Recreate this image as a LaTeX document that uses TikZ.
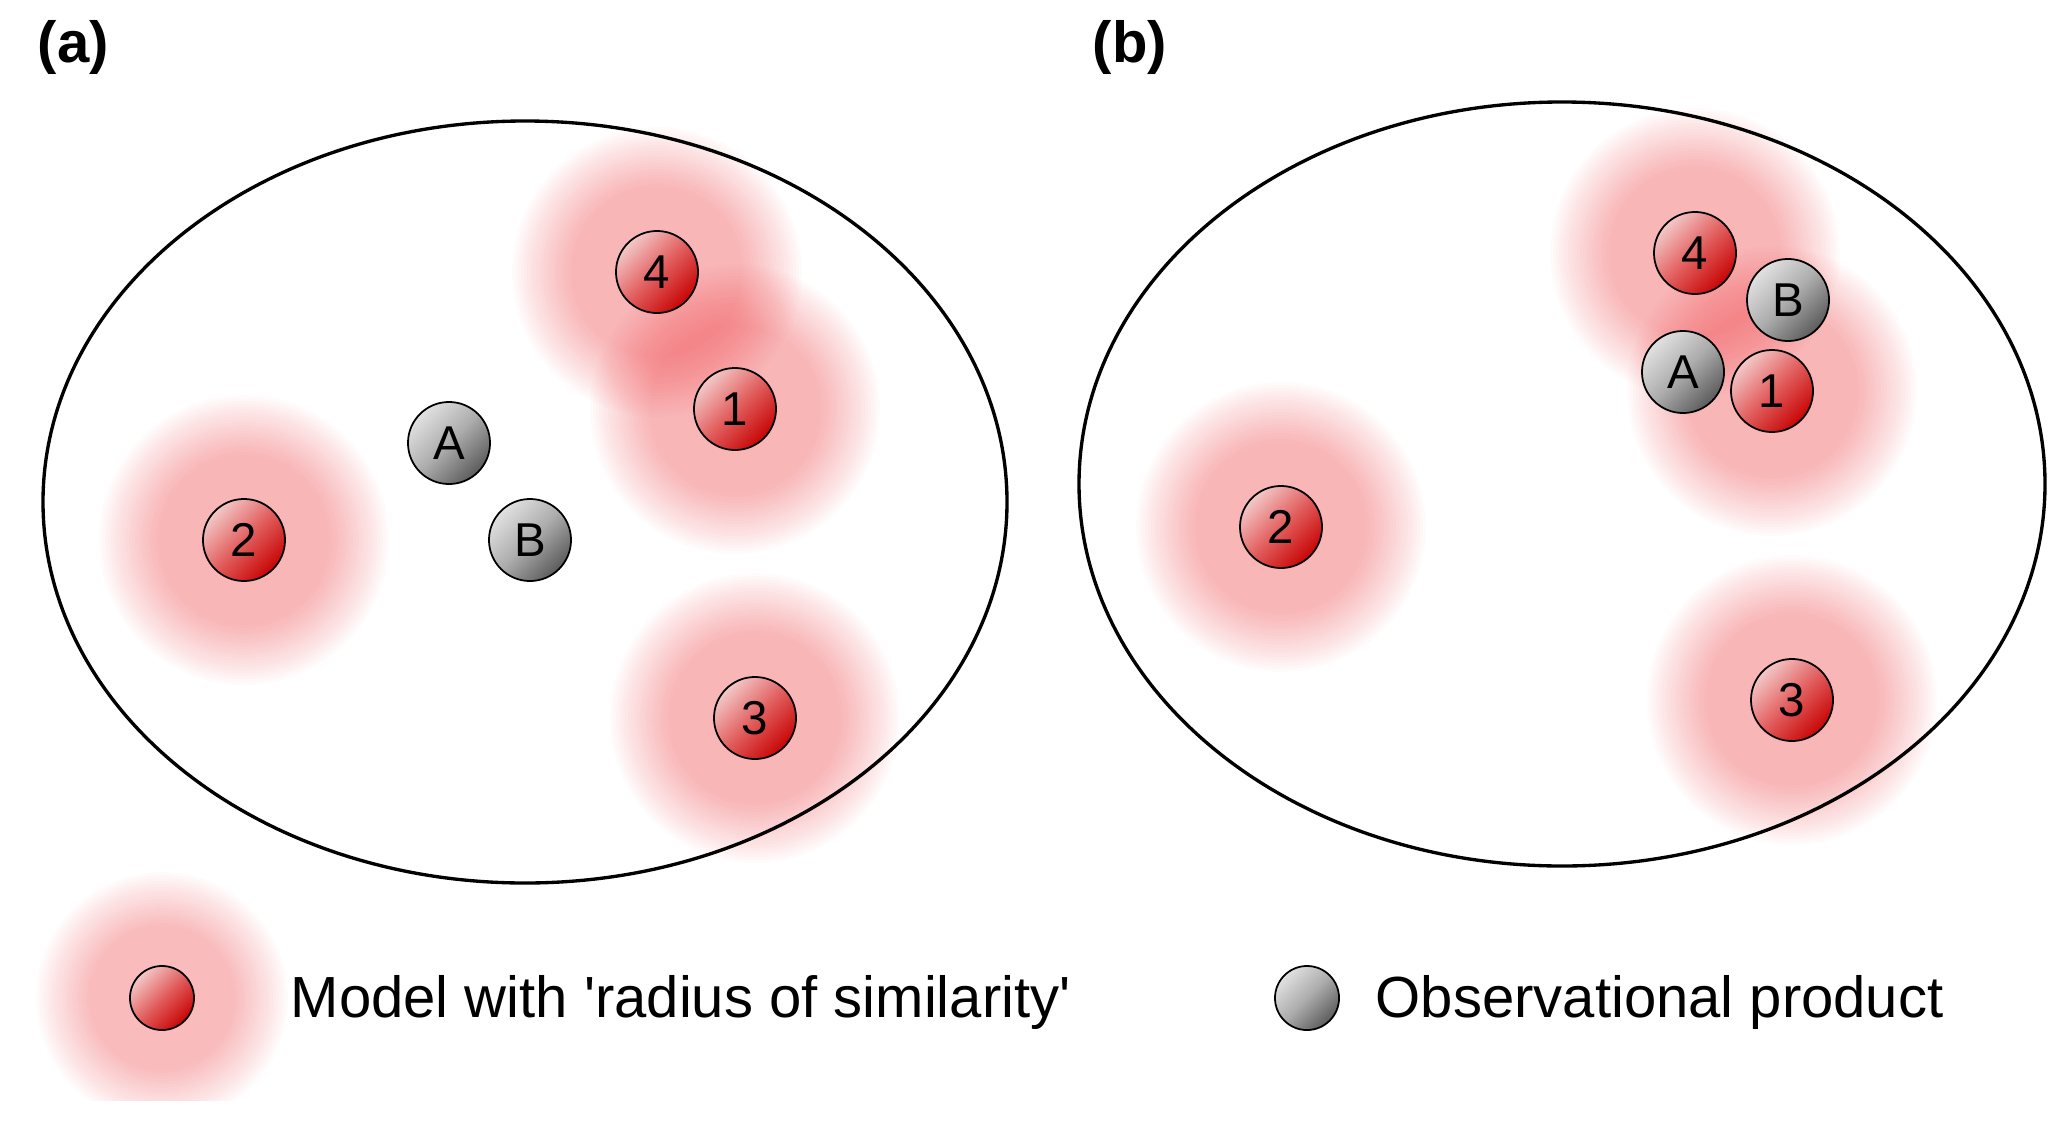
\documentclass[tikz,border=0pt]{standalone}
\usepackage{fontspec}
\setmainfont{Liberation Sans}
\usetikzlibrary{backgrounds}
\definecolor{glowred}{RGB}{235,40,45}
\definecolor{redlight}{RGB}{243,200,200}
\definecolor{redmid}{RGB}{226,95,95}
\definecolor{reddark}{RGB}{200,5,5}
\definecolor{greylight}{RGB}{225,225,225}
\definecolor{greymid}{RGB}{172,172,172}
\definecolor{greydark}{RGB}{92,92,92}
\tikzset{
  model/.style={circle, draw=black, line width=0.5pt, minimum size=0.82cm, inner sep=0pt,
    top color=redlight, bottom color=reddark, middle color=redmid, shading angle=45,
    font=\fontsize{13.5}{14}\selectfont},
  obs/.style={model, top color=greylight, bottom color=greydark, middle color=greymid, shading angle=45},
  simglow/.style={fill=glowred, fill opacity=0.02},
  samplespace/.style={draw=black, line width=0.95pt},
  legendtext/.style={anchor=base west, inner sep=0pt, font=\fontsize{16.5}{18}\selectfont},
  panellabel/.style={anchor=base west, inner sep=0pt, font=\fontsize{16.5}{18}\selectfont\bfseries},
}
\begin{document}
\begin{tikzpicture}[x=0.01cm, y=-0.01cm]
\useasboundingbox (0,0) rectangle (2067,1121);
\node[panellabel] (la) at (37,62) {(a)};
\node[panellabel] (lb) at (1092,62) {(b)};
\draw[samplespace] (525,502) ellipse [x radius=482, y radius=381];
\draw[samplespace] (1562,484) ellipse [x radius=483, y radius=382];
% panel (a)
\node[model] (a4) at (657,272) {4};
\node[model] (a1) at (735,409) {1};
\node[model] (a2) at (244,540) {2};
\node[model] (a3) at (755,718) {3};
\node[obs] (aA) at (449,443) {A};
\node[obs] (aB) at (530,540) {B};
% panel (b)
\node[model] (b4) at (1695,253) {4};
\node[model] (b1) at (1772,391) {1};
\node[model] (b2) at (1281,527) {2};
\node[model] (b3) at (1792,700) {3};
\node[obs] (bB) at (1788,300) {B};
\node[obs] (bA) at (1683,372) {A};
% legend
\node[model, minimum size=0.64cm] (kmodel) at (162,998) {};
\node[legendtext] (tmodel) at (290,1017) {Model with \textquotesingle radius of similarity\textquotesingle};
\node[obs, minimum size=0.64cm] (kobs) at (1307,998) {};
\node[legendtext] (tobs) at (1375,1017) {Observational product};
% radius of similarity, built up from faint rings
\begin{scope}[on background layer]
\foreach \m in {a4,a1,a2,a3,b4,b1,b2,b3}
  \foreach \r in {85,88,...,145}
    \fill[simglow] (\m.center) circle (\r);
\clip (0,0) rectangle (2067,1100);
\foreach \r in {72,75,...,128}
  \fill[simglow] (kmodel.center) circle (\r);
\end{scope}
\end{tikzpicture}
\end{document}
